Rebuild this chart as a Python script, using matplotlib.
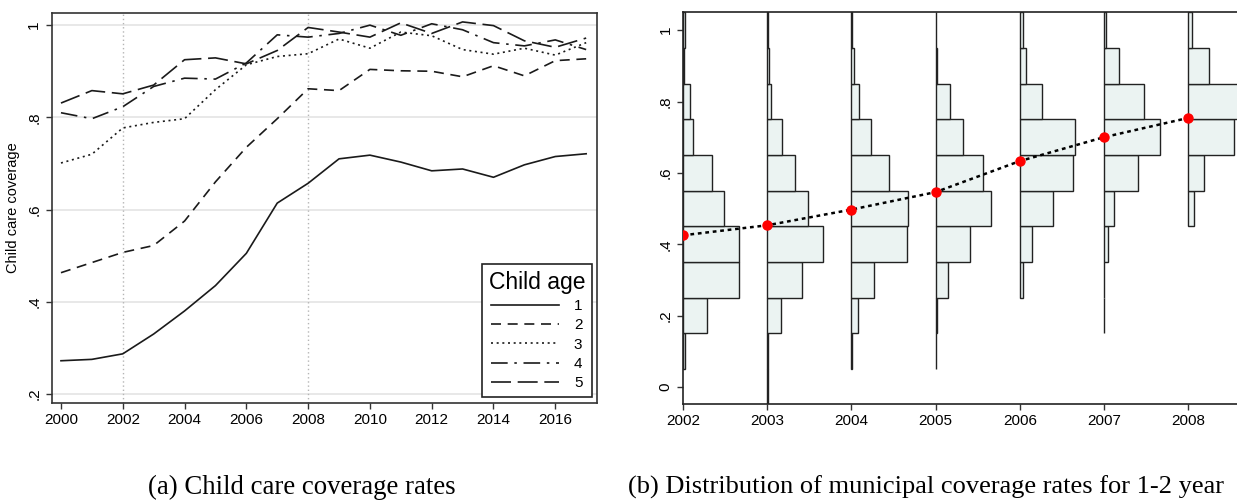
import numpy as np
import matplotlib
matplotlib.use("Agg")
import matplotlib.pyplot as plt

plt.rcParams['font.family'] = ['Liberation Sans', 'DejaVu Sans']

# panel (a): child care coverage by child age
years = np.arange(2000, 2018)
age_labels = ['1', '2', '3', '4', '5']
cov_age1 = [0.272, 0.275, 0.287, 0.330, 0.380, 0.435, 0.505, 0.614, 0.657, 0.710,
            0.718, 0.703, 0.684, 0.688, 0.670, 0.697, 0.715, 0.721]
cov_age2 = [0.463, 0.485, 0.507, 0.522, 0.575, 0.660, 0.735, 0.797, 0.862, 0.858,
            0.904, 0.901, 0.900, 0.888, 0.912, 0.890, 0.923, 0.927]
cov_age3 = [0.701, 0.720, 0.777, 0.789, 0.797, 0.860, 0.914, 0.932, 0.938, 0.970,
            0.950, 0.985, 0.977, 0.947, 0.937, 0.950, 0.935, 0.962]
cov_age4 = [0.810, 0.797, 0.823, 0.867, 0.885, 0.883, 0.918, 0.979, 0.974, 0.982,
            1.000, 0.978, 1.003, 0.990, 0.962, 0.955, 0.968, 0.947]
cov_age5 = [0.831, 0.858, 0.851, 0.870, 0.925, 0.929, 0.916, 0.945, 0.995, 0.985,
            0.974, 1.005, 0.982, 1.007, 0.999, 0.966, 0.952, 0.972]

# panel (b): municipal coverage rates for 1-2 year olds, histogram per year
hist_years = [2002, 2003, 2004, 2005, 2006, 2007, 2008]
bin_centers = np.round(np.arange(0, 1.01, 0.1), 2)
hist_2002 = [0, 0.03, 0.28, 0.67, 0.66, 0.49, 0.34, 0.12, 0.08, 0.01, 0.02]
hist_2003 = [0.008, 0.01, 0.17, 0.41, 0.66, 0.49, 0.33, 0.18, 0.05, 0.02, 0.01]
hist_2004 = [0, 0.01, 0.08, 0.27, 0.66, 0.67, 0.45, 0.23, 0.09, 0.03, 0.01]
hist_2005 = [0, 0.005, 0.02, 0.15, 0.41, 0.66, 0.56, 0.33, 0.17, 0.02, 0.01]
hist_2006 = [0, 0, 0, 0.04, 0.14, 0.39, 0.63, 0.66, 0.26, 0.07, 0.04]
hist_2007 = [0, 0, 0.004, 0.004, 0.05, 0.12, 0.41, 0.67, 0.48, 0.18, 0.02]
hist_2008 = [0, 0, 0, 0, 0, 0.075, 0.19, 0.55, 0.66, 0.25, 0.05]
mean_cov = [0.425, 0.453, 0.497, 0.546, 0.633, 0.700, 0.754]

fig = plt.figure(figsize=(12.37, 5.0), dpi=100)

# ---- left panel
ax1 = fig.add_axes([0.0418, 0.1946, 0.4408, 0.78])
styles = ['-', (0, (6, 4)), (0, (1.2, 2.2)), (0, (10, 4, 1.5, 4)), (0, (12, 4))]
for serie, ls, lab in zip([cov_age1, cov_age2, cov_age3, cov_age4, cov_age5], styles, age_labels):
    ax1.plot(years, serie, color='#1a1a1a', lw=1.2, linestyle=ls, label=lab)

for yv in [0.2, 0.4, 0.6, 0.8, 1.0]:
    ax1.axhline(yv, color='#e4e4e4', lw=1.2, zorder=0)
for xv in [2002, 2008]:
    ax1.axvline(xv, color='#b5b5b5', lw=1, linestyle=(0, (1, 2)), zorder=0)

ax1.set_xlim(1999.7, 2017.35)
ax1.set_ylim(0.181, 1.027)
ax1.set_xticks(np.arange(2000, 2017, 2))
ax1.set_yticks([0.2, 0.4, 0.6, 0.8, 1.0])
ax1.set_yticklabels(['.2', '.4', '.6', '.8', '1'], rotation=90, va='center')
ax1.tick_params(labelsize=11, length=4, width=1, color='#333333', direction='out')
ax1.set_ylabel('Child care coverage', fontsize=10.5, labelpad=5)
for sp in ax1.spines.values():
    sp.set_color('#333333')
    sp.set_linewidth(1.2)

leg = ax1.legend(title='Child age', loc='lower right', bbox_to_anchor=(0.991, 0.014),
                 borderaxespad=0, fancybox=False, edgecolor='#222222', framealpha=1,
                 fontsize=11, title_fontsize=16.5, handlelength=4.4, handletextpad=1.0,
                 labelspacing=0.35, borderpad=0.45)
leg.get_frame().set_linewidth(1.2)

# ---- right panel
ax2 = fig.add_axes([0.5521, 0.192, 0.4765, 0.784])
for yr, h in zip(hist_years, [hist_2002, hist_2003, hist_2004, hist_2005,
                              hist_2006, hist_2007, hist_2008]):
    h = np.array(h)
    keep = h > 0
    ax2.barh(bin_centers[keep], h[keep], height=0.1, left=yr, color='#ebf3f2',
             edgecolor='#222222', linewidth=1.0, zorder=2)
ax2.plot(hist_years, mean_cov, color='black', lw=1.8, linestyle=(0, (1.5, 1.5)), zorder=3)
ax2.plot(hist_years, mean_cov, 'o', color='#ff0000', markersize=6.5, zorder=4)

ax2.set_xlim(2002, 2009)
ax2.set_ylim(-0.048, 1.051)
ax2.set_xticks(hist_years)
ax2.set_yticks([0, 0.2, 0.4, 0.6, 0.8, 1.0])
ax2.set_yticklabels(['0', '.2', '.4', '.6', '.8', '1'], rotation=90, va='center')
ax2.tick_params(labelsize=11, length=4, width=1, color='#333333', direction='out')
for sp in ax2.spines.values():
    sp.set_color('#222222')
    sp.set_linewidth(1.2)

# captions (the reference cuts the right one at the page edge)
fig.text(302 / 1237, 0.012, '(a) Child care coverage rates', ha='center', va='baseline',
         fontsize=19.3, family='Liberation Serif')
fig.text(628 / 1237, 0.012, '(b) Distribution of municipal coverage rates for 1-2 year',
         ha='left', va='baseline', fontsize=19.0, family='Liberation Serif')

fig.savefig('out.png', dpi=100)
